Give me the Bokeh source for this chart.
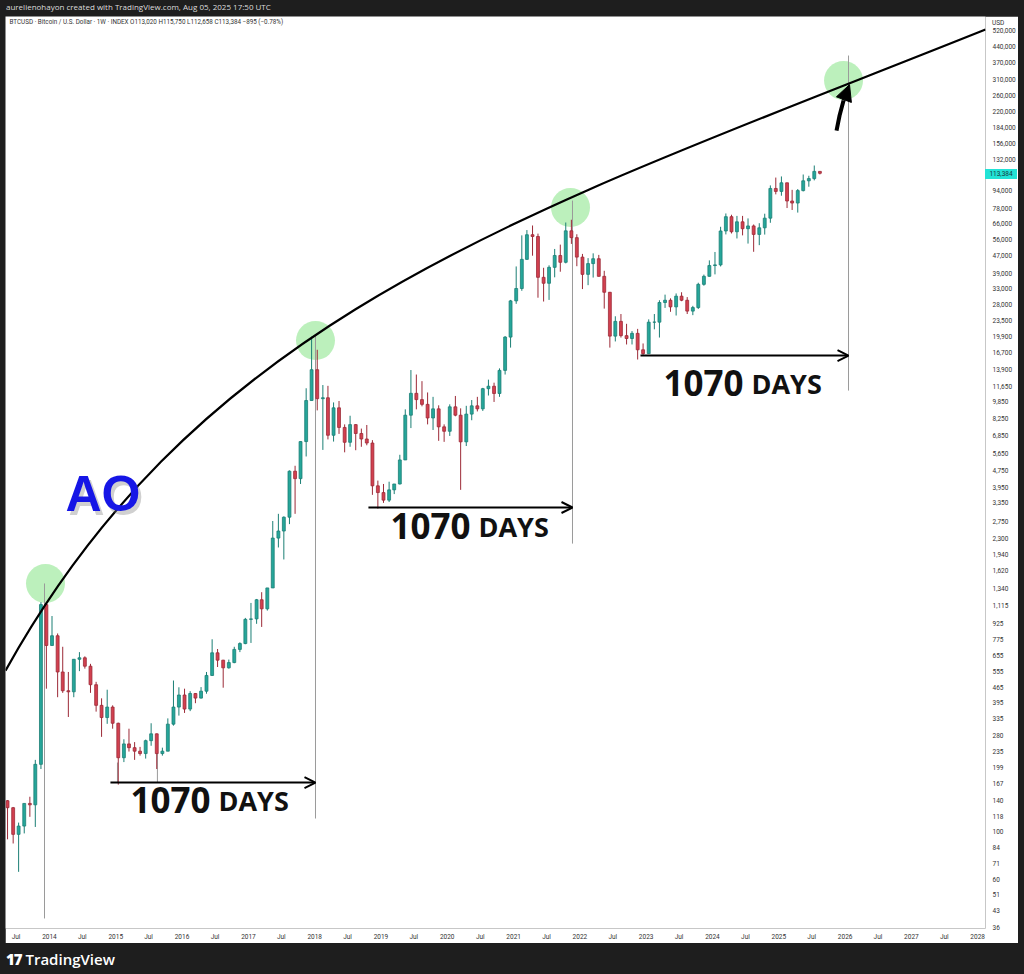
import datetime as dt
from bokeh.plotting import figure
from bokeh.models import (FixedTicker, NumeralTickFormatter, CustomJSTickFormatter, Range1d,
                          Label, Arrow, OpenHead, NormalHead, Div, ColumnDataSource)
from bokeh.layouts import column, row
from bokeh.embed import file_html
from bokeh.resources import INLINE

# ---------------- data: monthly BTCUSD candles ----------------
START_YEAR, START_MONTH = 2013, 5

OPEN = [139, 129, 97, 106, 135, 133, 205, 1130,
        730, 810, 550, 450, 445, 630, 640, 585, 480, 385, 338, 378,
        318, 220, 255, 245, 236, 230, 264, 284, 230, 236, 315, 378,
        430, 370, 437, 416, 448, 530, 675, 624, 575, 608, 700, 745,
        965, 970, 1190, 1080, 1350, 2300, 2480, 2875, 4700, 4340, 6450, 10000,
        13900, 10200, 10300, 6900, 9250, 7500, 6400, 7730, 7030, 6630, 6350, 4020,
        3740, 3450, 3850, 4100, 5300, 8550, 10800, 10100, 9600, 8300, 9150, 7550,
        7200, 9350, 8550, 6430, 8650, 9450, 9150, 11350, 11650, 10780, 13800, 19700,
        29000, 33100, 45200, 58800, 57700, 37300, 35000, 41500, 47100, 43800, 61300, 57000,
        46300, 38500, 43200, 45500, 37700, 31800, 19900, 23300, 20000, 19400, 20500, 17200,
        16500, 23100, 23100, 28500, 29200, 27200, 30500, 29200, 26000, 27000, 34600, 37700,
        42300, 42600, 61200, 71300, 60700, 67500, 62700, 64600, 59000, 63300, 70200, 96400,
        93400, 102400, 84300, 82500, 94200, 104600, 107100, 115700]

HIGH = [140, 130, 110, 135, 145, 215, 1160, 1163,
        1000, 830, 720, 550, 630, 680, 650, 600, 495, 415, 455, 385,
        320, 268, 300, 260, 247, 267, 318, 285, 245, 335, 502, 467,
        460, 448, 439, 468, 550, 780, 703, 626, 628, 720, 755, 980,
        1150, 1200, 1290, 1350, 2760, 2980, 2900, 4740, 4980, 6470, 11400, 19800,
        17200, 11800, 11700, 9800, 9950, 7750, 8500, 7770, 7410, 7700, 6550, 4250,
        4100, 4200, 4100, 5600, 9100, 13850, 13200, 12300, 10900, 10400, 9500, 7750,
        9600, 10500, 9200, 9450, 10050, 10400, 11450, 12500, 12100, 14100, 19900, 29300,
        41900, 58400, 61800, 64900, 59500, 41300, 42400, 50500, 52900, 67000, 69000, 59100,
        47900, 45800, 48200, 47400, 40000, 31900, 24600, 25200, 22700, 21000, 21500, 18400,
        23800, 25200, 29200, 31000, 29800, 31400, 31800, 30200, 27500, 35200, 38400, 44700,
        48900, 64000, 73800, 72800, 71900, 71900, 70000, 65600, 66500, 73600, 99600, 108300,
        109600, 102500, 95000, 95800, 111900, 110400, 123200, 115800]

LOW = [92, 88, 65, 98, 117, 105, 195, 460,
       730, 420, 440, 340, 420, 555, 570, 440, 360, 275, 316, 300,
       165, 210, 235, 215, 225, 218, 250, 195, 225, 236, 310, 345,
       355, 362, 394, 414, 436, 528, 580, 465, 570, 604, 680, 740,
       750, 920, 890, 1060, 1350, 2080, 1830, 2670, 2980, 4100, 5500, 10000,
       9000, 5900, 6600, 6450, 7000, 5750, 6100, 5880, 6100, 6200, 3650, 3150,
       3350, 3380, 3680, 4080, 5300, 7450, 9100, 9400, 7750, 7300, 6500, 6430,
       6850, 8450, 3850, 6150, 8100, 8900, 8950, 10550, 9850, 10400, 13200, 17600,
       28100, 32300, 45000, 47000, 30000, 28800, 29300, 37300, 39600, 43300, 53300, 42000,
       32900, 34300, 37200, 37600, 26700, 17600, 18800, 19600, 18200, 18200, 15500, 16300,
       16500, 21400, 19600, 26900, 25800, 24800, 28900, 25200, 24900, 26600, 34100, 37600,
       38500, 41900, 59000, 59600, 56500, 58400, 53500, 49000, 52600, 58900, 66800, 90500,
       89200, 78200, 76600, 74500, 93400, 98200, 105100, 112000]

CLOSE = [129, 97, 106, 135, 133, 205, 1130, 730,
         810, 550, 450, 445, 630, 640, 585, 480, 385, 338, 378, 318,
         220, 255, 245, 236, 230, 264, 284, 230, 236, 315, 378, 430,
         370, 437, 416, 448, 530, 675, 624, 575, 608, 700, 745, 965,
         970, 1190, 1080, 1350, 2300, 2480, 2875, 4700, 4340, 6450, 10000, 13900,
         10200, 10300, 6900, 9250, 7500, 6400, 7730, 7030, 6630, 6350, 4020, 3740,
         3450, 3850, 4100, 5300, 8550, 10800, 10100, 9600, 8300, 9150, 7550, 7200,
         9350, 8550, 6430, 8650, 9450, 9150, 11350, 11650, 10780, 13800, 19700, 29000,
         33100, 45200, 58800, 57700, 37300, 35000, 41500, 47100, 43800, 61300, 57000, 46300,
         38500, 43200, 45500, 37700, 31800, 19900, 23300, 20000, 19400, 20500, 17200, 16500,
         23100, 23100, 28500, 29200, 27200, 30500, 29200, 26000, 27000, 34600, 37700, 42300,
         42600, 61200, 71300, 60700, 67500, 62700, 64600, 59000, 63300, 70200, 96400, 93400,
         102400, 84300, 82500, 94200, 104600, 107100, 115700, 113384]

LAST_PRICE_TEXT = "113,384"
PRICE_TICKS = [36, 43, 51, 60, 71, 84, 100, 118, 140, 167, 199, 235, 280, 335, 395, 465,
               555, 655, 775, 925, 1115, 1340, 1620, 1940, 2300, 2750, 3350, 3950, 4750,
               5650, 6850, 8250, 9850, 11650, 13900, 16700, 19900, 23500, 28000, 33000,
               39000, 47000, 56000, 66000, 78000, 94000, 132000, 156000, 184000, 220000,
               260000, 310000, 370000, 440000, 520000]

# visible window (fractional years / prices)
X_RANGE_YEARS = [2013.3364, 2028.118]
Y_RANGE_PRICES = [35.48, 605400]

# ---------------- drawings on the chart (fractional year, price) ----------------
CURVE_YEARS = [2013.3364, 2016.368, 2021.330, 2028.118]      # start, ctrl1, ctrl2, end
CURVE_PRICES = [558.0, 26730, 76980, 526700]
CIRCLE_YEARS = [2013.94, 2018.012, 2021.858, 2025.976]
CIRCLE_PRICES = [1416, 18970, 78640, 305500]
VLINE_YEARS = [2013.925, 2018.012, 2021.888, 2026.051, 2015.026, 2015.629]
VLINE_TOP = [1416, 20030, 84700, 399000, 209, 250]
VLINE_BOTTOM = [39.5, 114.9, 2168, 11120, 168.8, 168.8]
ARROW_START_YEARS = [2014.920, 2018.811, 2022.914]
ARROW_END_YEARS = [2018.012, 2021.888, 2026.051]
ARROW_PRICES = [168.8, 3188, 16170]
NUM_YEARS = [2015.222, 2019.144, 2023.261]
DAYS_YEARS = [2016.549, 2020.471, 2024.588]
LABEL_PRICES = [119.9, 2240, 10325]
BIG_ARROW_YEARS = [2025.870, 2025.916, 2025.976, 2026.066]
BIG_ARROW_PRICES = [179000, 210200, 246600, 292300]
AO_YEAR, AO_PRICE = 2014.241, 3022

DARK = "#1e1e1e"
EPOCH = dt.datetime(1970, 1, 1)


def ms(d):
    return (d - EPOCH).total_seconds() * 1000.0


def yms(yf):
    y = int(yf)
    a, b = dt.datetime(y, 1, 1), dt.datetime(y + 1, 1, 1)
    return ms(a + (b - a) * (yf - y))


UP_FILL, UP_LINE = "#26a69a", "#1b7f75"
DN_FILL, DN_LINE = "#d2404f", "#9c2a37"

t, top, bot, fills, lines = [], [], [], [], []
for i, (o, c) in enumerate(zip(OPEN, CLOSE)):
    m0 = START_MONTH - 1 + i
    y, m = START_YEAR + m0 // 12, m0 % 12 + 1
    t.append(ms(dt.datetime(y, m, 15)))
    top.append(max(o, c))
    bot.append(min(o, c))
    up = c >= o
    fills.append(UP_FILL if up else DN_FILL)
    lines.append(UP_LINE if up else DN_LINE)

src = ColumnDataSource(dict(t=t, o=OPEN, h=HIGH, l=LOW, c=CLOSE, top=top, bot=bot,
                            fill=fills, line=lines))

p = figure(frame_width=980, frame_height=912,
           x_axis_type="datetime", y_axis_type="log", y_axis_location="right",
           x_range=Range1d(yms(X_RANGE_YEARS[0]), yms(X_RANGE_YEARS[1])),
           y_range=Range1d(Y_RANGE_PRICES[0], Y_RANGE_PRICES[1]),
           toolbar_location=None, output_backend="svg",
           min_border_left=0, min_border_top=0, min_border_right=32, min_border_bottom=15,
           background_fill_color="white", border_fill_color="white",
           outline_line_color=None, margin=0)
p.grid.visible = False

# axes
ya = p.yaxis[0]
ya.ticker = FixedTicker(ticks=PRICE_TICKS, minor_ticks=[])
ya.formatter = NumeralTickFormatter(format="0,0")
ya.axis_line_color = None
ya.major_tick_line_color = None
ya.minor_tick_line_color = None
ya.major_tick_out = 0
ya.major_tick_in = 0
ya.minor_tick_out = 0
ya.major_label_standoff = 7
ya.major_label_text_font = "Roboto"
ya.major_label_text_font_size = "6.5px"
ya.major_label_text_color = "#333333"

xticks = []
for yr in range(2013, 2029):
    for mo in (1, 7):
        v = ms(dt.datetime(yr, mo, 1))
        if yms(X_RANGE_YEARS[0]) < v < yms(X_RANGE_YEARS[1]):
            xticks.append(v)
xa = p.xaxis[0]
xa.ticker = FixedTicker(ticks=xticks, minor_ticks=[])
xa.formatter = CustomJSTickFormatter(code="""
    const d = new Date(tick);
    return d.getUTCMonth() == 0 ? String(d.getUTCFullYear()) : 'Jul';
""")
xa.axis_line_color = None
xa.major_tick_line_color = None
xa.minor_tick_line_color = None
xa.major_tick_out = 0
xa.major_tick_in = 0
xa.minor_tick_out = 0
xa.major_label_standoff = 4
xa.major_label_text_font = "Roboto"
xa.major_label_text_font_size = "6.5px"
xa.major_label_text_color = "#333333"

# green highlight circles
p.scatter([yms(v) for v in CIRCLE_YEARS], CIRCLE_PRICES, size=39,
          fill_color="#8fe68f", fill_alpha=0.6, line_color=None)

# thin grey vertical lines
p.segment([yms(v) for v in VLINE_YEARS], VLINE_TOP, [yms(v) for v in VLINE_YEARS], VLINE_BOTTOM,
          line_color="#9a9a9a", line_width=1)

# candles
p.segment("t", "h", "t", "l", source=src, line_color="line", line_width=1)
p.vbar(x="t", width=16 * 24 * 3600 * 1000, top="top", bottom="bot", source=src,
       fill_color="fill", line_color="line", line_width=0.8)

# curve
p.bezier(x0=[yms(CURVE_YEARS[0])], y0=[CURVE_PRICES[0]],
         x1=[yms(CURVE_YEARS[3])], y1=[CURVE_PRICES[3]],
         cx0=[yms(CURVE_YEARS[1])], cy0=[CURVE_PRICES[1]],
         cx1=[yms(CURVE_YEARS[2])], cy1=[CURVE_PRICES[2]],
         line_color="black", line_width=2.2)

# 1070 days arrows + labels
for xs, xe, yv in zip(ARROW_START_YEARS, ARROW_END_YEARS, ARROW_PRICES):
    p.add_layout(Arrow(end=OpenHead(size=11, line_width=2, line_color="black"),
                       x_start=yms(xs), y_start=yv, x_end=yms(xe), y_end=yv,
                       line_color="black", line_width=2))
for xn, xd, yv in zip(NUM_YEARS, DAYS_YEARS, LABEL_PRICES):
    p.add_layout(Label(x=yms(xn), y=yv, text="1070", text_font="Open Sans",
                       text_font_style="bold", text_font_size="35px", text_color="#111111",
                       text_baseline="alphabetic", text_align="left", y_offset=15))
    p.add_layout(Label(x=yms(xd), y=yv, text="DAYS", text_font="Open Sans",
                       text_font_style="bold", text_font_size="27px", text_color="#111111",
                       text_baseline="alphabetic", text_align="left", y_offset=14))

# big curved arrow at top right
p.line([yms(v) for v in BIG_ARROW_YEARS[:3]], BIG_ARROW_PRICES[:3], line_color="black",
       line_width=4)
p.add_layout(Arrow(end=NormalHead(size=16, fill_color="black", line_color="black"),
                   x_start=yms(BIG_ARROW_YEARS[2]), y_start=BIG_ARROW_PRICES[2],
                   x_end=yms(BIG_ARROW_YEARS[3]), y_end=BIG_ARROW_PRICES[3],
                   line_color="black", line_width=4))

# AO text with soft shadow
p.add_layout(Label(x=yms(AO_YEAR), y=AO_PRICE, text="AO", text_font="Liberation Sans",
                   text_font_style="bold", text_font_size="50px", text_color="#777777",
                   text_alpha=0.35, x_offset=3, y_offset=15, text_baseline="alphabetic"))
p.add_layout(Label(x=yms(AO_YEAR), y=AO_PRICE, text="AO", text_font="Liberation Sans",
                   text_font_style="bold", text_font_size="50px", text_color="#1616e6",
                   text_baseline="alphabetic", y_offset=19))

# legend line inside the pane
p.add_layout(Label(x=4, y=573700, x_units="screen", text_baseline="middle",
                   text="BTCUSD · Bitcoin / U.S. Dollar · 1W · INDEX  O113,020  H115,750  L112,658  C113,384  −895 (−0.78%)",
                   text_font="Roboto", text_font_size="6.3px", text_color="#333333"))

header = Div(text='<div style="padding:2px 0 0 6px;white-space:nowrap;">'
                  'aurelienohayon created with TradingView.com, Aug 05, 2025 17:50 UTC</div>',
             width=1024, height=16, margin=0,
             styles={"background-color": DARK, "color": "#dddddd", "font-size": "8px",
                     "line-height": "9px", "font-family": "Open Sans", "overflow": "hidden"})
left_pad = Div(text="", width=5, height=927, margin=0, styles={"background-color": DARK})
right_pad = Div(text="", width=7, height=927, margin=0, styles={"background-color": DARK})
footer = Div(text='<div style="padding:8px 0 0 6px;font-family:\'Open Sans\';font-size:15px;'
                  'line-height:16px;color:#ffffff;font-weight:600;white-space:nowrap;">'
                  '<span style="font-weight:900;letter-spacing:-1px;">17</span> TradingView</div>',
             width=1024, height=31, margin=0,
             styles={"background-color": DARK, "overflow": "hidden"})

price_tag = Div(text=LAST_PRICE_TEXT, width=32, height=10, margin=0,
                styles={"position": "absolute", "left": "985px", "top": "169px",
                        "background-color": "#22e3d6", "color": "#163838",
                        "font-size": "6.5px", "line-height": "10px", "text-align": "center",
                        "font-family": "Roboto"})
usd_tag = Div(text="USD", width=22, height=9, margin=0,
              styles={"position": "absolute", "left": "992px", "top": "19px",
                      "background-color": "white", "color": "#333333",
                      "font-size": "6.5px", "line-height": "9px", "font-family": "Roboto"})

layout = column(header, row(left_pad, p, right_pad, spacing=0, margin=0), footer,
                price_tag, usd_tag, spacing=0, margin=0)
html = file_html(layout, INLINE, "BTCUSD")
html = html.replace("</head>",
                    "<style>html,body{background:#1e1e1e !important;}</style></head>", 1)
open("out.html", "w").write(html)
